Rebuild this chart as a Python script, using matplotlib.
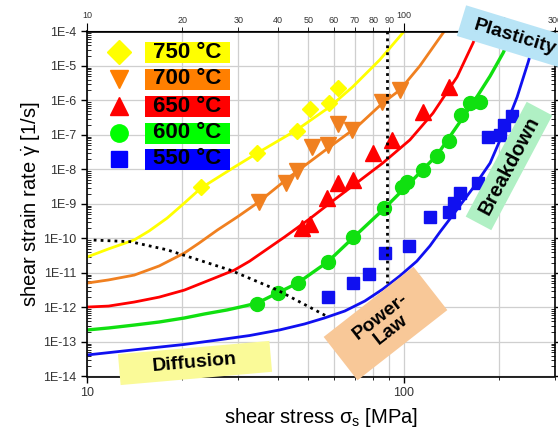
import numpy as np
import matplotlib
matplotlib.use("Agg")
import matplotlib.pyplot as plt
from matplotlib.patches import Rectangle
from matplotlib.transforms import Affine2D
from matplotlib.ticker import FixedLocator, LogLocator, NullFormatter

plt.rcParams["font.family"] = ["Liberation Sans", "DejaVu Sans"]
plt.rcParams["mathtext.fontset"] = "custom"
plt.rcParams["mathtext.rm"] = "Liberation Sans"
plt.rcParams["mathtext.it"] = "Liberation Sans:italic"
plt.rcParams["mathtext.bf"] = "Liberation Sans:bold"

# measured points (shear stress MPa, shear strain rate 1/s)
x750 = [22.9, 34.5, 45.9, 50.4, 57.9, 61.8]
y750 = [3.1e-9, 3.0e-8, 1.3e-7, 5.6e-7, 8.5e-7, 2.3e-6]
x700 = [35.0, 42.6, 45.9, 51.2, 57.5, 61.8, 68.4, 85.2, 97.1]
y700 = [1.15e-9, 4.1e-9, 9.1e-9, 4.5e-8, 5.1e-8, 2.1e-7, 1.4e-7, 9.1e-7, 2.0e-6]
x650 = [47.6, 50.4, 57.1, 61.8, 69.0, 79.8, 91.6, 114.8, 138.8]
y650 = [2.0e-10, 2.6e-10, 1.5e-9, 4.1e-9, 5.0e-9, 3.0e-8, 7.2e-8, 4.7e-7, 2.4e-6]
x600 = [34.5, 40.2, 46.2, 57.5, 69.0, 86.4, 98.6, 102.2, 114.8, 127.2, 138.8,
        151.5, 161.8, 174.0]
y600 = [1.26e-12, 2.6e-12, 5.1e-12, 2.1e-11, 1.1e-10, 7.6e-10, 3.1e-9, 4.4e-9,
        9.8e-9, 2.5e-8, 6.7e-8, 3.8e-7, 8.5e-7, 9.1e-7]
x550 = [57.5, 69.0, 77.5, 87.1, 103.7, 120.9, 138.8, 143.9, 150.4, 171.5, 184.4,
        201.2, 207.3, 219.7]
y550 = [2.0e-12, 5.1e-12, 9.3e-12, 3.8e-11, 6.1e-11, 4.2e-10, 5.9e-10, 1.07e-9,
        2.1e-9, 4.1e-9, 8.7e-8, 1.0e-7, 1.9e-7, 3.5e-7]

# fitted model curves
cx750 = [10, 11.7, 14.1, 15.7, 17.9, 20.3, 22.9, 29.2, 34.5, 45.9, 58.3, 69.0,
         83.9, 101]
cy750 = [2.9e-11, 5.0e-11, 9.1e-11, 1.65e-10, 3.9e-10, 1.07e-9, 2.9e-9, 1.18e-8,
         3.0e-8, 1.4e-7, 6.5e-7, 2.5e-6, 1.5e-5, 1.1e-4]
cx700 = [10, 11.7, 14.1, 16.9, 20.3, 22.6, 25.8, 29.8, 34.5, 43.6, 58.3, 71.0,
         85.8, 97.1, 112.3, 135]
cy700 = [5.1e-12, 6.3e-12, 8.7e-12, 1.6e-11, 3.8e-11, 7.4e-11, 1.76e-10, 4.2e-10,
         1.07e-9, 6.1e-9, 4.5e-8, 1.7e-7, 8.5e-7, 2.0e-6, 1.0e-5, 1.1e-4]
cx650 = [10, 11.7, 14.1, 16.9, 20.3, 25.8, 29.2, 32.6, 37.1, 42.0, 50.4, 59.6,
         71.0, 85.8, 104.5, 123.6, 147.2, 165.3, 172]
cy650 = [1.03e-12, 1.1e-12, 1.44e-12, 2.0e-12, 3.2e-12, 7.7e-12, 1.22e-11,
         2.2e-11, 5.0e-11, 1.1e-10, 3.7e-10, 1.22e-9, 4.1e-9, 1.54e-8, 7.2e-8,
         4.3e-7, 4.8e-6, 4.6e-5, 1.1e-4]
cx600 = [10, 11.7, 14.1, 16.9, 20.3, 23.5, 27.7, 31.4, 34.5, 39.9, 46.2, 57.5,
         69.0, 85.8, 104.5, 127.2, 150.4, 171.5, 187.2, 205.8, 222]
cy600 = [2.23e-13, 2.55e-13, 3.1e-13, 3.8e-13, 4.97e-13, 6.5e-13, 8.5e-13,
         1.1e-12, 1.35e-12, 2.63e-12, 5.1e-12, 2.1e-11, 1.03e-10, 6.7e-10,
         4.1e-9, 2.6e-8, 2.4e-7, 1.44e-6, 5.1e-6, 2.4e-5, 1.1e-4]
cx550 = [10, 12.6, 15.9, 20.3, 25.8, 32.6, 40.5, 48.6, 56.2, 65.1, 75.3, 85.8,
         97.1, 109.9, 120.9, 130.0, 139.8, 165.3, 187.2, 205.8, 227.8, 246.9, 264]
cy550 = [4.2e-14, 5.3e-14, 6.7e-14, 8.5e-14, 1.14e-13, 1.54e-13, 2.23e-13,
         3.33e-13, 4.97e-13, 7.9e-13, 1.54e-12, 3.4e-12, 8.2e-12, 2.2e-11,
         6.1e-11, 1.54e-10, 3.7e-10, 2.9e-9, 1.54e-8, 1.15e-7, 1.26e-6, 1.3e-5,
         1.1e-4]

# dotted regime boundaries
bound_x = [10.5, 13.7, 17.9, 28.4, 39.9, 57.5]
bound_y = [9e-11, 8.1e-11, 4.7e-11, 1.2e-11, 3.2e-12, 5.4e-13]
vert_x = [88.4, 88.4]
vert_y = [1e-4, 5e-12]

labels = ["750 °C", "700 °C", "650 °C", "600 °C", "550 °C"]
colors = ["#ffff00", "#f08020", "#ff0000", "#10e010", "#1010f0"]
box_colors = ["#ffff00", "#ff7f00", "#ff0000", "#00ff00", "#0000ff"]
markers = ["D", "v", "^", "o", "s"]
msizes = [8, 11, 11, 10, 9]
points = [(x750, y750), (x700, y700), (x650, y650), (x600, y600), (x550, y550)]
curves = [(cx750, cy750), (cx700, cy700), (cx650, cy650), (cx600, cy600), (cx550, cy550)]

W, H = 558, 430
fig = plt.figure(figsize=(W / 100, H / 100), dpi=100)
ax = fig.add_axes([87 / W, 1 - 376.5 / H, 468 / W, 345 / H])
ax.set_xscale("log")
ax.set_yscale("log")
ax.set_xlim(10, 300)
ax.set_ylim(1e-14, 1e-4)

for (cx, cy), (px, py), c, m, ms in zip(curves, points, colors, markers, msizes):
    ax.plot(cx, cy, color=c, lw=2.0 if c != "#10e010" else 2.4, zorder=2,
            solid_joinstyle="round")
    ax.plot(px, py, ls="none", marker=m, ms=ms, color=c, mec=c, zorder=3)

ax.plot(bound_x, bound_y, color="black", ls=(0, (1, 1.5)), lw=2, zorder=4)
ax.plot(vert_x, vert_y, color="black", ls=(0, (1, 1.5)), lw=2, zorder=4)

# axes, ticks, grid
ax.set_xticks([10, 100], ["10", "100"])
ax.xaxis.set_minor_locator(FixedLocator([20, 30, 40, 50, 60, 70, 80, 90, 200, 300]))
ax.xaxis.set_minor_formatter(NullFormatter())
exps = list(range(-14, -3))
ax.set_yticks([10.0 ** e for e in exps], [f"1E{e}" for e in exps])
ax.yaxis.set_minor_locator(LogLocator(base=10, subs=np.arange(2, 10), numticks=100))
ax.yaxis.set_minor_formatter(NullFormatter())
ax.tick_params(which="major", length=4, width=1, labelsize=9, labelcolor="#333333")
ax.tick_params(axis="y", which="minor", direction="in", length=3, right=True)
ax.tick_params(axis="y", which="major", right=True)
ax.tick_params(axis="x", which="minor", length=2.5)
ax.grid(axis="y", which="major", color="#cfcfcf", lw=0.9)
ax.grid(axis="x", which="both", color="#cfcfcf", lw=0.9)
ax.set_axisbelow(True)
for sp in ax.spines.values():
    sp.set_linewidth(1.2)

top = ax.secondary_xaxis("top")
top.set_ticks([10, 100], ["10", "100"])
top.set_ticks([20, 30, 40, 50, 60, 70, 80, 90, 200, 300],
              ["20", "30", "40", "50", "60", "70", "80", "90", "200", "300"], minor=True)
top.tick_params(which="both", labelsize=6.5, labelcolor="#333333", pad=2)
top.tick_params(which="major", length=6)
top.tick_params(which="minor", length=3)

ax.set_xlabel(r"shear stress σ$_\mathrm{s}$ [MPa]", fontsize=14.5)
ax.xaxis.set_label_coords(0.5, -0.085)
ax.set_ylabel(r"shear strain rate $\dot{\mathrm{\gamma}}$ [1/s]", fontsize=14.5)
ax.yaxis.set_label_coords(-0.097, 0.5)

px_tr = Affine2D().scale(1 / 100) + fig.dpi_scale_trans


def label_box(cx, cy, w, h, angle, color, text, size, **kw):
    # cx, cy in pixels from top-left of the figure
    yb = H - cy
    rect = Rectangle((cx - w / 2, yb - h / 2), w, h, angle=angle,
                     rotation_point="center", facecolor=color, edgecolor="none",
                     transform=px_tr, zorder=5)
    fig.add_artist(rect)
    fig.text(cx / W, yb / H, text, rotation=angle, rotation_mode="anchor",
             ha="center", va="center", fontsize=size, fontweight="bold",
             zorder=6, **kw)


# legend
leg_y = [52, 79, 106, 133, 159]
leg_ms = [12, 12.5, 12.5, 12.5, 12]
for lab, c, bc, m, ms, ly in zip(labels, colors, box_colors, markers, leg_ms, leg_y):
    ax.plot([(119 - 87) / 468], [(376.5 - ly) / 345], marker=m, ms=ms, color=bc,
            mec=bc, ls="none", transform=ax.transAxes, clip_on=False, zorder=5)
    label_box(187.5, ly, 85, 21, 0, bc, lab, 16)

# regime labels
label_box(195, 363, 152, 31, 5, "#fafa98", "Diffusion", 14)
label_box(385.5, 323.5, 114, 55, 38, "#f8c898", "Power-\nLaw", 14, linespacing=1.0)
label_box(509, 166, 130, 29, 62, "#b0f0c4", "Breakdown", 14.5)
label_box(515, 37, 112, 32, -17, "#b8e4f6", "Plasticity", 14)

fig.savefig("out.png", dpi=100)
